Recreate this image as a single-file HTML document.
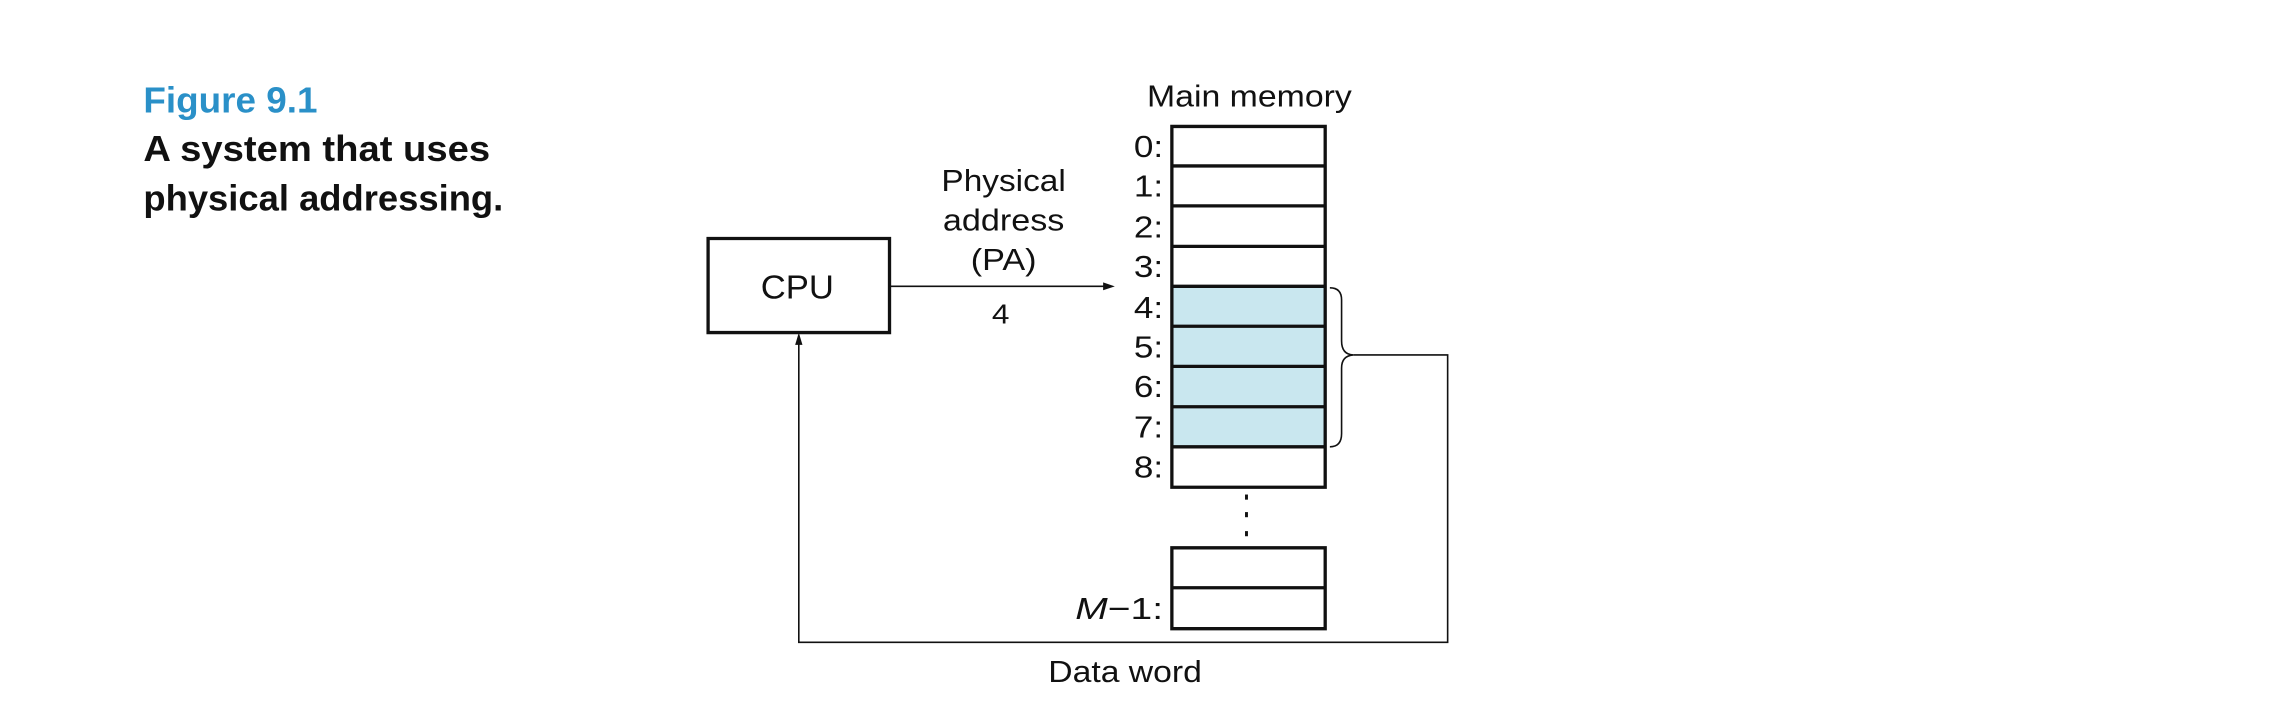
<!DOCTYPE html>
<html><head><meta charset="utf-8"><style>
html,body{margin:0;padding:0;background:#fff;}
svg{display:block;}
text{font-family:"Liberation Sans",Arial,sans-serif;fill:#111;}
</style></head><body>
<svg width="2294" height="714" viewBox="0 0 1568 488" preserveAspectRatio="none" xmlns="http://www.w3.org/2000/svg">
<g font-weight="bold">
<text x="98" y="77" font-size="25" style="fill:#2a90c8" textLength="119" lengthAdjust="spacingAndGlyphs">Figure 9.1</text>
<text x="98" y="110" font-size="25" textLength="237" lengthAdjust="spacingAndGlyphs">A system that uses</text>
<text x="98" y="144" font-size="25" textLength="246" lengthAdjust="spacingAndGlyphs">physical addressing.</text>
</g>
<!-- CPU -->
<rect x="484" y="163" width="124" height="64.3" fill="#fff" stroke="#111" stroke-width="3.3" vector-effect="non-scaling-stroke"/>
<text x="545" y="204" font-size="23" text-anchor="middle" textLength="50" lengthAdjust="spacingAndGlyphs">CPU</text>
<!-- PA arrow -->
<line x1="608" y1="195.7" x2="756" y2="195.7" stroke="#111" stroke-width="1.6" vector-effect="non-scaling-stroke"/>
<polygon points="762,195.7 754,193 754,198.4" fill="#111"/>
<text x="686" y="130.5" font-size="21" text-anchor="middle" textLength="85" lengthAdjust="spacingAndGlyphs">Physical</text>
<text x="686" y="157.5" font-size="21" text-anchor="middle" textLength="83" lengthAdjust="spacingAndGlyphs">address</text>
<text x="686" y="184.5" font-size="21" text-anchor="middle" textLength="45" lengthAdjust="spacingAndGlyphs">(PA)</text>
<text x="684" y="221" font-size="19" text-anchor="middle" textLength="12" lengthAdjust="spacingAndGlyphs">4</text>
<!-- Memory -->
<text x="854" y="72.7" font-size="21" text-anchor="middle" textLength="140" lengthAdjust="spacingAndGlyphs">Main memory</text>
<rect x="801" y="195.7" width="105" height="109.7" fill="#c9e7ef"/>
<g stroke="#111" stroke-width="3.3" fill="none">
<rect x="801" y="86.4" width="104.8" height="246.6" vector-effect="non-scaling-stroke"/>
<line x1="801" x2="905.8" y1="113.4" y2="113.4" vector-effect="non-scaling-stroke"/>
<line x1="801" x2="905.8" y1="140.7" y2="140.7" vector-effect="non-scaling-stroke"/>
<line x1="801" x2="905.8" y1="168.4" y2="168.4" vector-effect="non-scaling-stroke"/>
<line x1="801" x2="905.8" y1="195.7" y2="195.7" vector-effect="non-scaling-stroke"/>
<line x1="801" x2="905.8" y1="223" y2="223" vector-effect="non-scaling-stroke"/>
<line x1="801" x2="905.8" y1="250.4" y2="250.4" vector-effect="non-scaling-stroke"/>
<line x1="801" x2="905.8" y1="278" y2="278" vector-effect="non-scaling-stroke"/>
<line x1="801" x2="905.8" y1="305.4" y2="305.4" vector-effect="non-scaling-stroke"/>
<rect x="801" y="374.4" width="104.8" height="55.3" vector-effect="non-scaling-stroke"/>
<line x1="801" x2="905.8" y1="401.7" y2="401.7" vector-effect="non-scaling-stroke"/>
</g>
<g fill="#111">
<rect x="851" y="338" width="2" height="3.5"/>
<rect x="851" y="350" width="2" height="3.5"/>
<rect x="851" y="363" width="2" height="3.5"/>
</g>
<g font-size="21" text-anchor="end">
<text x="795" y="107.2" textLength="20" lengthAdjust="spacingAndGlyphs">0:</text>
<text x="795" y="134.2" textLength="20" lengthAdjust="spacingAndGlyphs">1:</text>
<text x="795" y="162.2" textLength="20" lengthAdjust="spacingAndGlyphs">2:</text>
<text x="795" y="189.2" textLength="20" lengthAdjust="spacingAndGlyphs">3:</text>
<text x="795" y="217.2" textLength="20" lengthAdjust="spacingAndGlyphs">4:</text>
<text x="795" y="244.2" textLength="20" lengthAdjust="spacingAndGlyphs">5:</text>
<text x="795" y="271.2" textLength="20" lengthAdjust="spacingAndGlyphs">6:</text>
<text x="795" y="299.2" textLength="20" lengthAdjust="spacingAndGlyphs">7:</text>
<text x="795" y="326.2" textLength="20" lengthAdjust="spacingAndGlyphs">8:</text>
<text x="795" y="423" textLength="60" lengthAdjust="spacingAndGlyphs"><tspan font-style="italic">M</tspan>−1:</text>
</g>
<!-- brace -->
<path d="M909,196.7 Q917,196.7 917,205 L917,233 Q917,242.3 925,242.6 Q917,243.2 917,251.6 L917,296.4 Q917,305.4 909,305.4" fill="none" stroke="#111" stroke-width="1.6" vector-effect="non-scaling-stroke"/>
<!-- data path -->
<polyline points="925,242.6 989.5,242.6 989.5,439 546,439 546,233" fill="none" stroke="#111" stroke-width="1.6" vector-effect="non-scaling-stroke"/>
<polygon points="546,227.3 543.5,235.7 548.5,235.7" fill="#111"/>
<text x="769" y="466" font-size="21" text-anchor="middle" textLength="105" lengthAdjust="spacingAndGlyphs">Data word</text>
</svg>
</body></html>
